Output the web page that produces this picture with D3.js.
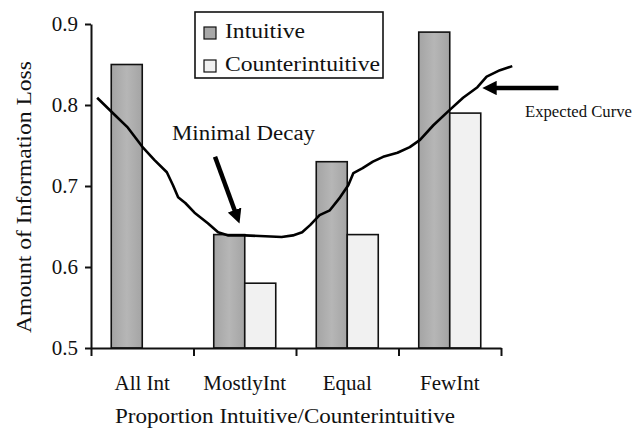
<!DOCTYPE html>
<html>
<head>
  <meta charset="utf-8">
  <title>Amount of Information Loss</title>
  <script src="https://d3js.org/d3.v7.min.js"></script>
  <style>
    body { margin: 0; background: #fff; }
    svg text { font-family: "Liberation Serif", "DejaVu Serif", serif; fill: #111; }
  </style>
</head>
<body>
  <div id="chart"></div>

  <script>
    // data
    const categories = ["All Int", "MostlyInt", "Equal", "FewInt"];
    const seriesNames = ["Intuitive", "Counterintuitive"];
    const intuitive = [0.85, 0.64, 0.73, 0.89];
    const counterintuitive = [null, 0.58, 0.64, 0.79];
    const yTicks = [0.5, 0.6, 0.7, 0.8, 0.9];

    // hand-drawn "expected curve": x in category units (0..4 across the axis), y in loss
    const curveX = [0.06, 0.23, 0.36, 0.51, 0.62, 0.74, 0.80, 0.85, 0.92, 1.01, 1.14, 1.24, 1.34, 1.50,
                    1.70, 1.86, 1.97, 2.06, 2.14, 2.23, 2.33, 2.43, 2.51, 2.56, 2.65, 2.75, 2.85, 2.99,
                    3.11, 3.21, 3.34, 3.50, 3.63, 3.77, 3.86, 3.99, 4.11];
    const curveY = [0.809, 0.788, 0.772, 0.747, 0.732, 0.717, 0.701, 0.686, 0.679, 0.667, 0.654, 0.643, 0.639, 0.639,
                    0.638, 0.637, 0.639, 0.643, 0.652, 0.664, 0.670, 0.686, 0.701, 0.716, 0.722, 0.730, 0.736, 0.741,
                    0.748, 0.757, 0.775, 0.794, 0.809, 0.822, 0.835, 0.843, 0.848];

    const width = 637, height = 435;
    const m = { left: 91, right: 501, top: 24, bottom: 348 };
    const serif = "'Liberation Serif', 'DejaVu Serif', serif";

    const svg = d3.select("#chart").append("svg")
      .attr("width", width).attr("height", height)
      .attr("font-family", serif);

    const defs = svg.append("defs");
    const grad = defs.append("linearGradient").attr("id", "gray").attr("x1", 0).attr("x2", 1);
    grad.append("stop").attr("offset", "0%").attr("stop-color", "#a4a4a4");
    grad.append("stop").attr("offset", "50%").attr("stop-color", "#b6b6b6");
    grad.append("stop").attr("offset", "100%").attr("stop-color", "#a4a4a4");

    const fills = { "Intuitive": "url(#gray)", "Counterintuitive": "#f1f1f1" };

    const x0 = d3.scaleBand().domain(categories).range([m.left, m.right]).padding(0);
    const x1 = d3.scaleBand().domain(seriesNames).range([0, 62]);
    const xPos = d3.scaleLinear().domain([0, 4]).range([m.left, m.right]);
    const y = d3.scaleLinear().domain([0.5, 0.9]).range([m.bottom, m.top]);

    const rows = categories.map((c, i) => ({
      cat: c,
      vals: [
        { key: "Intuitive", v: intuitive[i] },
        { key: "Counterintuitive", v: counterintuitive[i] }
      ]
    }));

    // bars
    const groups = svg.append("g").selectAll("g").data(rows).join("g")
      .attr("transform", d => `translate(${x0(d.cat) + (x0.bandwidth() - 62) / 2},0)`);

    groups.selectAll("rect").data(d => d.vals.filter(v => v.v != null)).join("rect")
      .attr("x", d => x1(d.key))
      .attr("y", d => y(d.v))
      .attr("width", x1.bandwidth())
      .attr("height", d => y(0.5) - y(d.v))
      .attr("fill", d => fills[d.key])
      .attr("stroke", "#111")
      .attr("stroke-width", 1.6);

    // y axis
    const yAxis = svg.append("g").attr("transform", `translate(${m.left},0)`)
      .call(d3.axisLeft(y).tickValues(yTicks).tickFormat(d3.format(".1f")).tickSize(6).tickSizeOuter(0));
    yAxis.attr("font-family", serif);
    yAxis.selectAll("text").attr("font-size", 21).attr("dx", -4);

    // x axis with ticks on the category borders
    svg.append("g").attr("transform", `translate(0,${m.bottom})`)
      .call(d3.axisBottom(xPos).tickValues([0, 1, 2, 3, 4]).tickFormat("").tickSize(8).tickSizeOuter(0));

    svg.selectAll(".domain, .tick line").attr("stroke", "#111").attr("stroke-width", 2);

    svg.append("g").selectAll("text").data(categories).join("text")
      .attr("x", d => x0(d) + x0.bandwidth() / 2)
      .attr("y", 390)
      .attr("text-anchor", "middle")
      .attr("font-size", 21)
      .text(d => d);

    svg.append("text")
      .attr("x", 285).attr("y", 423)
      .attr("text-anchor", "middle")
      .attr("font-size", 21)
      .attr("textLength", 340).attr("lengthAdjust", "spacingAndGlyphs")
      .text("Proportion Intuitive/Counterintuitive");

    svg.append("text")
      .attr("transform", "translate(31,197) rotate(-90)")
      .attr("text-anchor", "middle")
      .attr("font-size", 21)
      .attr("textLength", 272).attr("lengthAdjust", "spacingAndGlyphs")
      .text("Amount of Information Loss");

    // expected curve
    const curvePts = curveX.map((d, i) => [d, curveY[i]]);
    svg.append("path")
      .datum(curvePts)
      .attr("fill", "none")
      .attr("stroke", "#000")
      .attr("stroke-width", 2.6)
      .attr("stroke-linejoin", "round")
      .attr("d", d3.line().x(d => xPos(d[0])).y(d => y(d[1])));

    // legend
    const legend = svg.append("g").attr("transform", "translate(195,12)");
    legend.append("rect").attr("width", 188).attr("height", 66)
      .attr("fill", "#fff").attr("stroke", "#111").attr("stroke-width", 1.6);
    seriesNames.forEach((s, i) => {
      const g = legend.append("g").attr("transform", `translate(9,${15 + i * 33})`);
      g.append("rect").attr("width", 12).attr("height", 12)
        .attr("fill", i === 0 ? "#a8a8a8" : "#f1f1f1").attr("stroke", "#111").attr("stroke-width", 1.2);
      g.append("text").attr("x", 21).attr("y", 11).attr("font-size", 21)
        .attr("textLength", i === 0 ? 80 : 155).attr("lengthAdjust", "spacingAndGlyphs")
        .text(s);
    });

    // annotations
    defs.append("marker").attr("id", "head")
      .attr("viewBox", "0 0 10 10").attr("refX", 2).attr("refY", 5)
      .attr("markerWidth", 3.2).attr("markerHeight", 3.2).attr("orient", "auto")
      .append("path").attr("d", "M0,0 L10,5 L0,10 z").attr("fill", "#000");

    const arrows = [
      { from: [1.21, 0.736], to: [1.41, 0.667] },
      { from: [4.56, 0.821], to: [3.93, 0.821] }
    ];
    svg.append("g").selectAll("line").data(arrows).join("line")
      .attr("x1", d => xPos(d.from[0])).attr("y1", d => y(d.from[1]))
      .attr("x2", d => xPos(d.to[0])).attr("y2", d => y(d.to[1]))
      .attr("stroke", "#000").attr("stroke-width", 4.5)
      .attr("marker-end", "url(#head)");

    svg.append("text")
      .attr("x", 172).attr("y", 140)
      .attr("font-size", 20)
      .attr("textLength", 143).attr("lengthAdjust", "spacingAndGlyphs")
      .text("Minimal Decay");

    svg.append("text")
      .attr("x", 525).attr("y", 117)
      .attr("font-size", 16)
      .attr("textLength", 107).attr("lengthAdjust", "spacingAndGlyphs")
      .text("Expected Curve");
  </script>
</body>
</html>
